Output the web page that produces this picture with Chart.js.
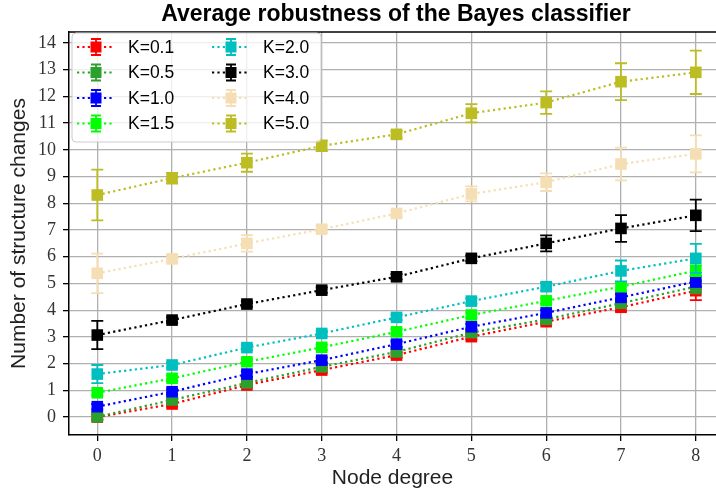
<!DOCTYPE html>
<html>
<head>
<meta charset="utf-8">
<script src="https://cdn.jsdelivr.net/npm/chart.js@4"></script>
<style>
  html, body { margin: 0; padding: 0; background: #fff; overflow: hidden; }
  #chart { display: block; }
</style>
</head>
<body>
<canvas id="chart" width="716" height="496"></canvas>
<script>
// node degree (x) and tick values
const degrees = [0, 1, 2, 3, 4, 5, 6, 7, 8];
const xTicks = [0, 1, 2, 3, 4, 5, 6, 7, 8];
const yTicks = [0, 1, 2, 3, 4, 5, 6, 7, 8, 9, 10, 11, 12, 13, 14];

const seriesNames = ['K=0.1', 'K=0.5', 'K=1.0', 'K=1.5', 'K=2.0', 'K=3.0', 'K=4.0', 'K=5.0'];
const seriesColors = ['#ff0000', '#2ca02c', '#0000ff', '#00ff00', '#00bfbf', '#000000', '#f5deb3', '#bcbd22'];

// mean number of structure changes per K
const k01 = [0.0, 0.49, 1.20, 1.76, 2.32, 3.01, 3.57, 4.11, 4.73];
const k05 = [0.01, 0.64, 1.28, 1.88, 2.44, 3.16, 3.66, 4.26, 4.88];
const k10 = [0.39, 0.95, 1.61, 2.13, 2.73, 3.38, 3.90, 4.48, 5.07];
const k15 = [0.91, 1.45, 2.07, 2.61, 3.19, 3.82, 4.35, 4.88, 5.48];
const k20 = [1.61, 1.95, 2.60, 3.13, 3.73, 4.34, 4.88, 5.47, 5.94];
const k30 = [3.07, 3.63, 4.23, 4.75, 5.25, 5.94, 6.50, 7.06, 7.55];
const k40 = [5.38, 5.92, 6.50, 7.03, 7.62, 8.35, 8.79, 9.47, 9.85];
const k50 = [8.31, 8.94, 9.52, 10.15, 10.58, 11.37, 11.77, 12.55, 12.90];

// error bar half-lengths
const e01 = [0.1, 0.1, 0.1, 0.1, 0.1, 0.1, 0.1, 0.15, 0.35];
const e05 = [0.1, 0.1, 0.1, 0.1, 0.1, 0.1, 0.1, 0.12, 0.25];
const e10 = [0.1, 0.1, 0.1, 0.1, 0.1, 0.1, 0.1, 0.12, 0.2];
const e15 = [0.1, 0.1, 0.1, 0.1, 0.1, 0.1, 0.1, 0.15, 0.2];
const e20 = [0.34, 0.1, 0.1, 0.1, 0.1, 0.1, 0.15, 0.39, 0.54];
const e30 = [0.53, 0.1, 0.1, 0.1, 0.1, 0.1, 0.3, 0.5, 0.59];
const e40 = [0.74, 0.12, 0.31, 0.12, 0.1, 0.28, 0.33, 0.61, 0.69];
const e50 = [0.95, 0.2, 0.34, 0.2, 0.12, 0.34, 0.42, 0.69, 0.81];

const means = [k01, k05, k10, k15, k20, k30, k40, k50];
const errors = [e01, e05, e10, e15, e20, e30, e40, e50];

const sansFont = "'Liberation Sans', Arial, sans-serif";
const serifFont = "'Liberation Serif', 'DejaVu Serif', serif";

const datasets = seriesNames.map((name, i) => ({
    label: name,
    data: degrees.map((d, j) => ({ x: d, y: means[i][j] })),
    errors: errors[i],
    borderColor: seriesColors[i],
    backgroundColor: seriesColors[i],
    borderWidth: 2.2,
    borderDash: [2.2, 3.2],
    pointStyle: 'rect',
    pointRadius: 8.2,
    pointBorderWidth: 0,
    pointBackgroundColor: seriesColors[i],
    order: seriesNames.length - 1 - i, // later series drawn on top
    clip: false
}));

function drawErrorBar(ctx, x, yTop, yBot, color, cap) {
    ctx.strokeStyle = color;
    ctx.lineWidth = 1.8;
    ctx.setLineDash([]);
    ctx.beginPath();
    ctx.moveTo(x, yTop); ctx.lineTo(x, yBot);
    ctx.moveTo(x - cap, yTop); ctx.lineTo(x + cap, yTop);
    ctx.moveTo(x - cap, yBot); ctx.lineTo(x + cap, yBot);
    ctx.stroke();
}

const errorBars = {
    id: 'errorBars',
    beforeDatasetDraw(chart, args) {
        const ds = chart.data.datasets[args.index];
        const xs = chart.scales.x, ys = chart.scales.y;
        const ctx = chart.ctx;
        ctx.save();
        ds.data.forEach((p, j) => {
            const e = ds.errors[j];
            drawErrorBar(ctx, xs.getPixelForValue(p.x), ys.getPixelForValue(p.y + e),
                ys.getPixelForValue(p.y - e), ds.borderColor, 6);
        });
        ctx.restore();
    }
};

const decorations = {
    id: 'decorations',
    afterDraw(chart) {
        const ctx = chart.ctx;
        const area = chart.chartArea;
        ctx.save();
        // top spine
        ctx.strokeStyle = '#000';
        ctx.lineWidth = 1.5;
        ctx.beginPath();
        ctx.moveTo(area.left, area.top);
        ctx.lineTo(area.right, area.top);
        ctx.stroke();

        // title
        ctx.fillStyle = '#000';
        ctx.font = "bold 23px " + sansFont;
        ctx.textAlign = 'center';
        ctx.textBaseline = 'alphabetic';
        ctx.fillText('Average robustness of the Bayes classifier', 396, 21);

        // legend
        const bx = 72, by = 33, bw = 249, bh = 109, r = 4;
        ctx.beginPath();
        ctx.moveTo(bx + r, by);
        ctx.arcTo(bx + bw, by, bx + bw, by + bh, r);
        ctx.arcTo(bx + bw, by + bh, bx, by + bh, r);
        ctx.arcTo(bx, by + bh, bx, by, r);
        ctx.arcTo(bx, by, bx + bw, by, r);
        ctx.closePath();
        ctx.fillStyle = 'rgba(255,255,255,0.8)';
        ctx.fill();
        ctx.strokeStyle = '#cccccc';
        ctx.lineWidth = 1;
        ctx.stroke();

        const colX = [77, 212];
        ctx.font = "17.5px " + sansFont;
        ctx.textAlign = 'left';
        ctx.textBaseline = 'middle';
        seriesNames.forEach((name, i) => {
            const cx = colX[Math.floor(i / 4)];
            const cy = 47 + (i % 4) * 25.5;
            const color = seriesColors[i];
            ctx.strokeStyle = color;
            ctx.lineWidth = 2.2;
            ctx.setLineDash([2.2, 3.2]);
            ctx.beginPath();
            ctx.moveTo(cx, cy); ctx.lineTo(cx + 36, cy);
            ctx.stroke();
            ctx.setLineDash([]);
            drawErrorBar(ctx, cx + 19, cy - 8, cy + 8, color, 5);
            ctx.fillStyle = color;
            ctx.fillRect(cx + 19 - 5.5, cy - 5.5, 11, 11);
            ctx.fillStyle = '#000';
            ctx.fillText(name, cx + 51, cy + 1);
        });
        ctx.restore();
    }
};

new Chart(document.getElementById('chart').getContext('2d'), {
    type: 'line',
    data: { datasets: datasets },
    options: {
        responsive: false,
        animation: false,
        devicePixelRatio: 1,
        layout: { autoPadding: false, padding: { top: 32, right: 0, bottom: 0, left: 0 } },
        plugins: {
            legend: { display: false },
            title: { display: false },
            tooltip: { enabled: false }
        },
        scales: {
            x: {
                type: 'linear',
                min: -0.378,
                max: 8.27,
                afterFit: s => { s.height = 61; s.paddingLeft = 0; s.paddingRight = 0; },
                afterBuildTicks: s => { s.ticks = xTicks.map(v => ({ value: v })); },
                grid: { color: '#b0b0b0', lineWidth: 1.3, tickLength: 6, tickColor: '#000', tickWidth: 1.3 },
                border: { color: '#000', width: 1.5 },
                ticks: { color: '#333', font: { family: serifFont, size: 18 }, padding: 4, maxRotation: 0 },
                title: { display: true, text: 'Node degree', color: '#222', font: { family: sansFont, size: 21 }, padding: { top: 0, bottom: 5.4 } }
            },
            y: {
                min: -0.67,
                max: 14.41,
                afterFit: s => { s.width = 69; s.paddingTop = 0; s.paddingBottom = 0; },
                afterBuildTicks: s => { s.ticks = yTicks.map(v => ({ value: v })); },
                grid: { color: '#b0b0b0', lineWidth: 1.3, tickLength: 6, tickColor: '#000', tickWidth: 1.3 },
                border: { color: '#000', width: 1.5 },
                ticks: { color: '#333', font: { family: serifFont, size: 18 }, padding: 7 },
                title: { display: true, text: 'Number of structure changes', color: '#222', font: { family: sansFont, size: 21 }, padding: { top: 6.5, bottom: 0 } }
            }
        }
    },
    plugins: [errorBars, decorations]
});
</script>
</body>
</html>
